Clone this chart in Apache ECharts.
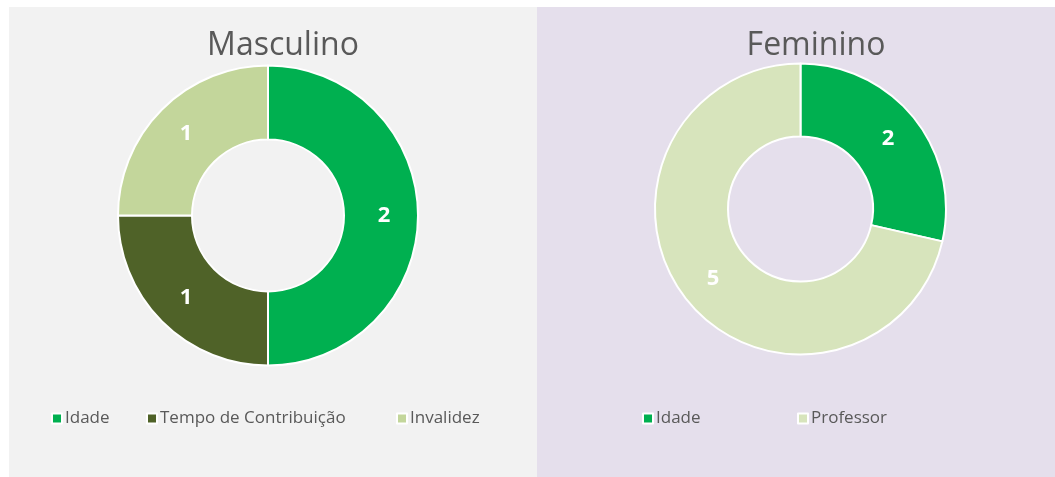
<!DOCTYPE html>
<html><head><meta charset="utf-8">
<script src="https://cdn.jsdelivr.net/npm/echarts@6/dist/echarts.min.js"></script>
<style>html,body{margin:0;padding:0;background:#fff}#c{width:1055px;height:477px}</style>
</head><body><div id="c"></div>
<script>
const titles = ['Masculino', 'Feminino'];
const maleCategories = ['Idade', 'Tempo de Contribuição', 'Invalidez'];
const maleValues = [2, 1, 1];
const femaleCategories = ['Idade', 'Professor'];
const femaleValues = [2, 5];
const colors = {'Idade': '#00b050', 'Tempo de Contribuição': '#4f6228', 'Invalidez': '#c3d69b', 'Professor': '#d7e4bc'};

const FONT = 'Open Sans';
const chart = echarts.init(document.getElementById('c'), null, {renderer: 'canvas'});

function mkData(cats, vals) {
  return cats.map((c, i) => ({name: c, value: vals[i], itemStyle: {color: colors[c]}}));
}
const labelStyle = {show: true, position: 'inside', formatter: '{c}', color: '#fff', fontSize: 22, fontWeight: 'bold', fontFamily: FONT};
const legendBase = {orient: 'horizontal', icon: 'rect', itemWidth: 10, itemHeight: 10, itemGap: 10, padding: 0,
  textStyle: {color: '#595959', fontSize: 17, fontFamily: FONT, padding: [0, 0, 0, -2]}, selectedMode: false};

const legendSpecs = [
  {name: maleCategories[0], left: 51}, {name: maleCategories[1], left: 146}, {name: maleCategories[2], left: 396},
  {name: femaleCategories[0], left: 642}, {name: femaleCategories[1], left: 797}
];

chart.setOption({
  animation: false,
  graphic: [
    {type: 'rect', shape: {x: 9, y: 7, width: 528, height: 470}, style: {fill: '#f2f2f2'}, z: -10},
    {type: 'rect', shape: {x: 537, y: 7, width: 518, height: 470}, style: {fill: '#e5dfec'}, z: -10}
  ],
  title: [
    {text: titles[0], left: 278, top: 25, textAlign: 'center', textStyle: {color: '#595959', fontSize: 32, fontWeight: 'normal', fontFamily: FONT}},
    {text: titles[1], left: 811, top: 25, textAlign: 'center', textStyle: {color: '#595959', fontSize: 32, fontWeight: 'normal', fontFamily: FONT}}
  ],
  legend: legendSpecs.map(s => Object.assign({}, legendBase, {data: [s.name], left: s.left, top: 410})),
  series: [
    {type: 'pie', center: [268, 215.5], radius: [76, 150], startAngle: 90, clockwise: true,
     itemStyle: {borderColor: '#fff', borderWidth: 2}, label: labelStyle, labelLine: {show: false},
     data: mkData(maleCategories, maleValues)},
    {type: 'pie', center: [800.5, 209], radius: [72.5, 145.5], startAngle: 90, clockwise: true,
     itemStyle: {borderColor: '#fff', borderWidth: 2}, label: labelStyle, labelLine: {show: false},
     data: mkData(femaleCategories, femaleValues)}
  ]
});
</script></body></html>
